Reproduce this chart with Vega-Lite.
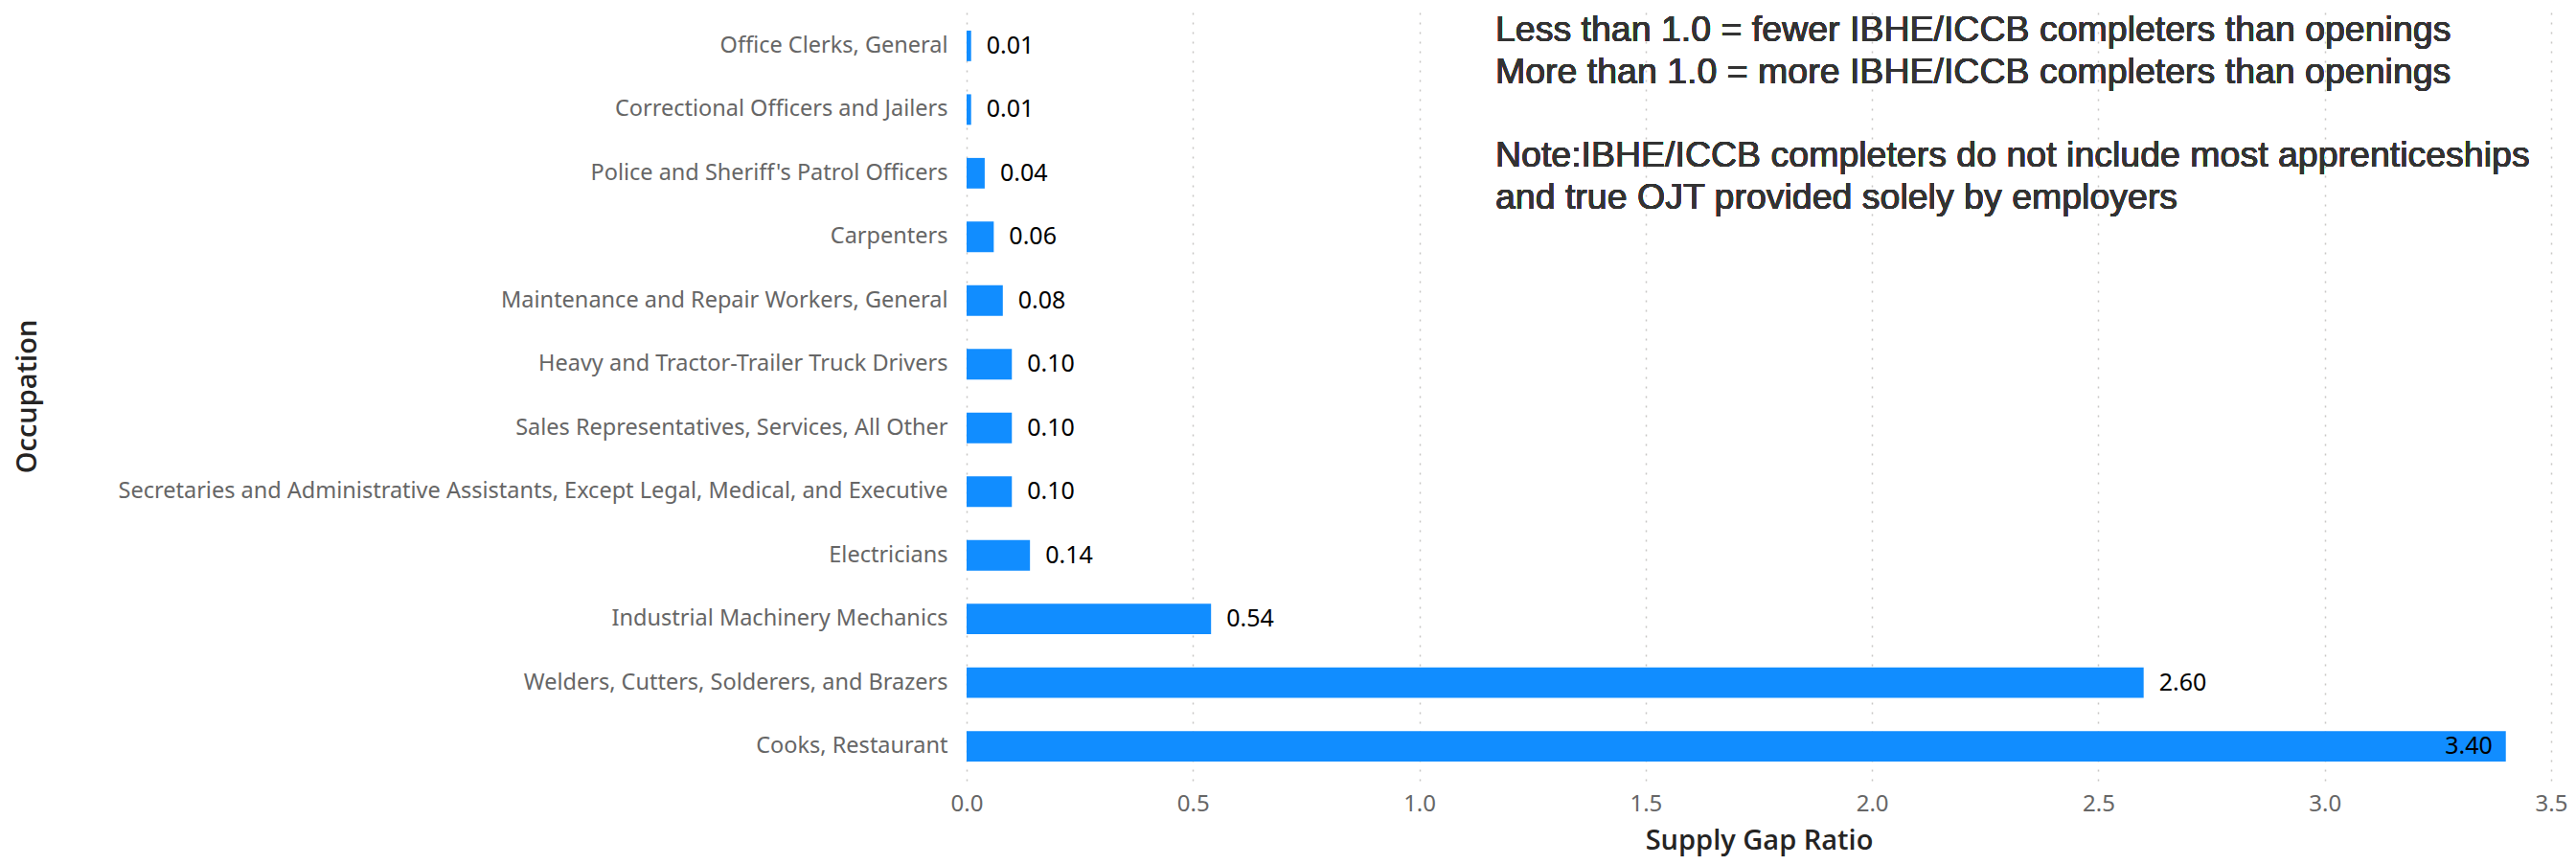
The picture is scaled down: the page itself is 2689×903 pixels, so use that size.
{
  "$schema": "https://vega.github.io/schema/vega-lite/v6.json",
  "autosize": {"type": "none"},
  "padding": {"left": 1009, "top": 12, "right": 26, "bottom": 88},
  "width": 1654,
  "height": 803,
  "background": "white",
  "config": {"view": {"stroke": null}},
  "data": {
    "values": [
      {"occupation": "Office Clerks, General", "ratio": 0.01},
      {"occupation": "Correctional Officers and Jailers", "ratio": 0.01},
      {"occupation": "Police and Sheriff's Patrol Officers", "ratio": 0.04},
      {"occupation": "Carpenters", "ratio": 0.06},
      {"occupation": "Maintenance and Repair Workers, General", "ratio": 0.08},
      {"occupation": "Heavy and Tractor-Trailer Truck Drivers", "ratio": 0.10},
      {"occupation": "Sales Representatives, Services, All Other", "ratio": 0.10},
      {"occupation": "Secretaries and Administrative Assistants, Except Legal, Medical, and Executive", "ratio": 0.10},
      {"occupation": "Electricians", "ratio": 0.14},
      {"occupation": "Industrial Machinery Mechanics", "ratio": 0.54},
      {"occupation": "Welders, Cutters, Solderers, and Brazers", "ratio": 2.60},
      {"occupation": "Cooks, Restaurant", "ratio": 3.40}
    ]
  },
  "encoding": {
    "y": {
      "field": "occupation",
      "type": "nominal",
      "sort": null,
      "scale": {"paddingInner": 0.52, "paddingOuter": 0.3},
      "axis": {
        "title": "Occupation",
        "titleFont": "Open Sans",
        "titleFontSize": 29,
        "titleFontWeight": 600,
        "titleColor": "#252423",
        "titleX": -981,
        "titleBaseline": "middle",
        "titleAlign": "center",
        "titleAngle": -90,
        "labelFont": "Noto Sans",
        "labelFontSize": 23.5,
        "labelColor": "#666666",
        "labelPadding": 20,
        "labelLimit": 1000,
        "domain": false,
        "ticks": false,
        "grid": false
      }
    }
  },
  "layer": [
    {
      "mark": {"type": "bar", "color": "#118DFF"},
      "encoding": {
        "x": {
          "field": "ratio",
          "type": "quantitative",
          "scale": {"domain": [0, 3.5], "nice": false},
          "axis": {
            "title": "Supply Gap Ratio",
            "titleFont": "Open Sans",
            "titleFontSize": 29,
            "titleFontWeight": 600,
            "titleColor": "#252423",
            "titlePadding": 12,
            "labelFont": "Noto Sans",
            "labelFontSize": 24,
            "labelColor": "#666666",
            "labelPadding": 12,
            "labelFlush": false,
            "format": ".1f",
            "values": [0, 0.5, 1, 1.5, 2, 2.5, 3, 3.5],
            "domain": false,
            "ticks": false,
            "grid": true,
            "gridColor": "#C8C6C4",
            "gridDash": [2, 8],
            "gridWidth": 1.5
          }
        }
      }
    },
    {
      "transform": [{"filter": "datum.ratio < 3"}],
      "mark": {"type": "text", "align": "left", "baseline": "middle", "dx": 16, "font": "Noto Sans", "fontSize": 25, "color": "#000000"},
      "encoding": {
        "x": {"field": "ratio", "type": "quantitative"},
        "text": {"field": "ratio", "type": "quantitative", "format": ".2f"}
      }
    },
    {
      "transform": [{"filter": "datum.ratio >= 3"}],
      "mark": {"type": "text", "align": "right", "baseline": "middle", "dx": -14, "font": "Noto Sans", "fontSize": 25, "color": "#000000"},
      "encoding": {
        "x": {"field": "ratio", "type": "quantitative"},
        "text": {"field": "ratio", "type": "quantitative", "format": ".2f"}
      }
    },
    {
      "mark": {"type": "text", "align": "left", "baseline": "top", "dy": -35, "font": "Liberation Sans", "fontWeight": "normal", "fontSize": 37.5, "lineHeight": 44, "color": "#333333"},
      "encoding": {
        "x": {"datum": 1.168},
        "y": {"datum": "Office Clerks, General"},
        "text": {"value": ["Less than 1.0 = fewer IBHE/ICCB completers than openings", "More than 1.0 = more IBHE/ICCB completers than openings"]}
      }
    },
    {
      "mark": {"type": "text", "align": "left", "baseline": "top", "dy": 96, "font": "Liberation Sans", "fontWeight": "normal", "fontSize": 37.5, "lineHeight": 44, "color": "#333333"},
      "encoding": {
        "x": {"datum": 1.168},
        "y": {"datum": "Office Clerks, General"},
        "text": {"value": ["Note:IBHE/ICCB completers do not include most apprenticeships", "and true OJT provided solely by employers"]}
      }
    }
  ]
}
